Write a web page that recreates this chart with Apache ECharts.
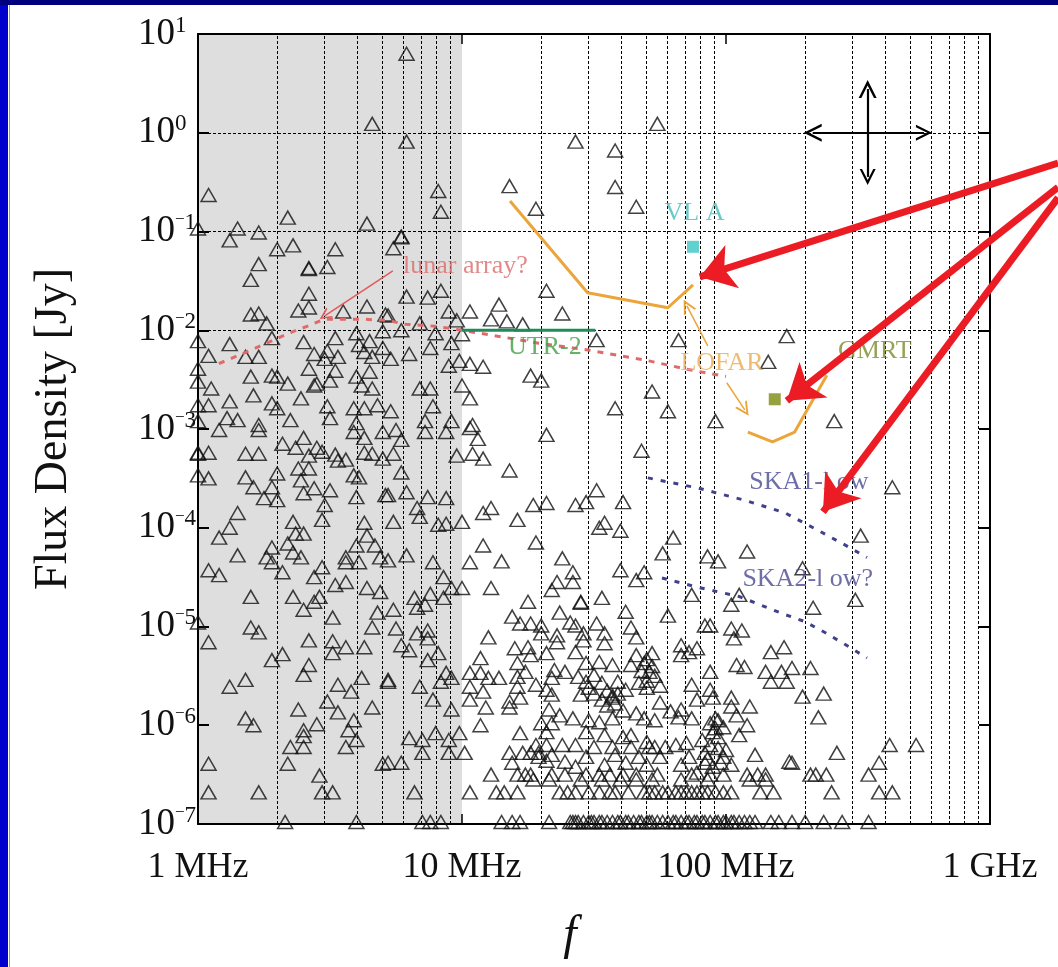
<!DOCTYPE html>
<html><head><meta charset="utf-8">
<script src="https://cdn.jsdelivr.net/npm/echarts@6/dist/echarts.min.js"></script>
<style>html,body{margin:0;padding:0;background:#fff;}#c{width:1058px;height:967px;}</style>
</head><body><div id="c"></div>
<script>
// Sources: [log10(f / MHz), log10(S / Jy)]
const srcGrayUpper = [[0.66,0.09],[0.04,-0.63],[0.00,-0.97],[0.15,-0.97],[0.12,-1.09],[0.23,-1.01],[0.34,-0.86],[0.64,-0.92],[0.30,-1.18],[0.36,-1.14],[0.52,-1.18],[0.23,-1.33],[0.20,-1.49],[0.42,-1.37],[0.42,-1.38],[0.49,-1.36],[0.42,-1.63],[0.38,-1.80],[0.42,-1.77],[0.20,-1.84],[0.23,-1.83],[0.26,-1.93],[0.55,-1.81],[0.64,-1.76],[0.71,-1.84],[0.00,-2.11],[0.12,-2.14],[0.28,-2.08],[0.04,-2.26],[0.18,-2.27],[0.23,-2.27],[0.40,-2.12],[0.44,-2.24],[0.49,-2.21],[0.52,-2.08],[0.48,-2.29],[0.53,-2.27],[0.60,-2.03],[0.61,-2.15],[0.65,-2.11],[0.63,-2.22],[0.66,-2.27],[0.70,-2.01],[0.70,-2.18],[0.00,-2.39],[0.00,-2.52],[0.05,-2.59],[0.20,-2.47],[0.28,-2.46],[0.30,-2.47],[0.34,-2.54],[0.42,-2.39],[0.44,-2.56],[0.45,-2.54],[0.52,-2.41],[0.50,-2.51],[0.60,-2.47],[0.65,-2.42],[0.62,-2.56],[0.66,-2.59],[0.00,-2.76],[0.04,-2.76],[0.12,-2.72],[0.21,-2.66],[0.28,-2.74],[0.30,-2.79],[0.39,-2.69],[0.49,-2.77],[0.59,-2.79],[0.63,-2.79],[0.68,-2.76],[0.11,-2.89],[0.15,-2.91],[0.35,-2.91],[0.50,-2.89],[0.23,-2.96],[0.60,-2.94],[0.00,-2.92]];
const srcGrayLower = [[0.08,-3.01],[0.23,-3.01],[0.00,-3.24],[0.00,-3.25],[0.04,-3.24],[0.18,-3.25],[0.23,-3.25],[0.32,-3.15],[0.37,-3.19],[0.40,-3.09],[0.45,-3.19],[0.42,-3.27],[0.47,-3.23],[0.52,-3.26],[0.56,-3.31],[0.53,-3.32],[0.59,-3.03],[0.63,-3.09],[0.63,-3.24],[0.66,-3.25],[0.70,-3.03],[0.70,-3.30],[0.00,-3.47],[0.04,-3.50],[0.18,-3.49],[0.21,-3.59],[0.25,-3.70],[0.28,-3.59],[0.30,-3.45],[0.30,-3.72],[0.38,-3.40],[0.42,-3.40],[0.39,-3.52],[0.40,-3.65],[0.44,-3.60],[0.50,-3.62],[0.48,-3.77],[0.47,-3.92],[0.59,-3.47],[0.61,-3.49],[0.60,-3.69],[0.71,-3.67],[0.15,-3.85],[0.12,-4.00],[0.08,-4.10],[0.36,-3.94],[0.37,-4.06],[0.40,-4.06],[0.34,-4.16],[0.28,-4.20],[0.26,-4.30],[0.28,-4.35],[0.15,-4.28],[0.36,-4.25],[0.39,-4.30],[0.32,-4.45],[0.04,-4.43],[0.08,-4.48],[0.63,-3.95],[0.64,-4.08],[0.60,-4.18],[0.67,-4.18],[0.69,-4.30],[0.56,-4.30],[0.56,-4.35],[0.61,-4.35],[0.47,-4.40],[0.44,-4.50],[0.52,-4.58],[0.56,-4.55],[0.20,-4.70],[0.36,-4.70],[0.46,-4.70],[0.44,-4.75],[0.40,-4.83],[0.64,-4.61],[0.69,-4.65],[0.68,-4.86],[0.51,-4.91],[0.00,-4.96],[0.20,-5.01],[0.23,-5.06],[0.04,-5.16],[0.42,-5.14],[0.51,-5.15],[0.56,-5.21],[0.63,-5.21],[0.51,-5.27],[0.66,-5.01],[0.32,-5.28],[0.28,-5.34],[0.42,-5.39],[0.40,-5.49],[0.18,-5.54],[0.12,-5.61],[0.53,-5.59],[0.58,-5.66],[0.62,-5.52],[0.72,-5.56],[0.49,-5.76],[0.53,-5.87],[0.38,-5.84],[0.66,-5.82],[0.18,-5.93],[0.21,-6.00],[0.40,-6.05],[0.40,-6.11],[0.45,-5.99],[0.59,-5.95],[0.57,-6.05],[0.60,-6.15],[0.56,-6.22],[0.35,-6.22],[0.40,-6.22],[0.04,-6.39],[0.34,-6.39],[0.46,-6.51],[0.70,-6.39],[0.04,-6.68],[0.23,-6.68],[0.47,-6.68],[0.51,-6.68]];
const srcMidUpper = [[0.79,0.80],[0.79,-0.09],[0.91,-0.59],[0.92,-0.80],[1.18,-0.54],[1.28,-0.77],[1.43,-0.09],[0.77,-1.05],[0.77,-1.06],[0.74,-1.17],[1.32,-1.60],[0.92,-1.60],[0.87,-1.67],[0.79,-1.66],[1.14,-1.74],[1.03,-1.81],[1.11,-1.89],[1.17,-1.91],[1.23,-1.94],[1.38,-1.83],[0.95,-1.81],[0.98,-1.90],[0.84,-1.93],[0.77,-2.00],[0.72,-1.85],[0.90,-2.03],[1.00,-2.04],[0.96,-2.13],[0.88,-2.18],[0.80,-2.24],[0.73,-2.29],[0.95,-2.36],[0.99,-2.31],[1.03,-2.34],[1.08,-2.37],[1.26,-2.46],[1.30,-2.51],[0.84,-2.59],[0.88,-2.59],[1.00,-2.56],[1.03,-2.69],[0.73,-2.82],[0.89,-2.77],[0.86,-2.92],[0.96,-2.92],[1.04,-2.96]];
const srcMidLower = [[0.75,-3.01],[0.77,-3.11],[0.86,-3.03],[0.94,-3.03],[1.03,-2.99],[1.06,-3.10],[1.32,-3.06],[0.74,-3.25],[0.98,-3.27],[1.04,-3.25],[1.08,-3.30],[1.18,-3.42],[0.77,-3.44],[0.72,-3.67],[0.79,-3.64],[0.87,-3.69],[0.94,-3.70],[0.83,-3.80],[0.84,-3.89],[0.74,-3.94],[0.91,-3.97],[0.94,-3.96],[1.00,-3.94],[1.08,-3.85],[1.11,-3.80],[1.21,-3.92],[1.27,-3.77],[1.32,-3.75],[1.43,-3.77],[1.28,-4.15],[1.08,-4.18],[1.15,-4.34],[1.03,-4.35],[0.79,-4.28],[0.89,-4.35],[0.72,-4.33],[0.93,-4.50],[1.11,-4.61],[1.00,-4.61],[0.96,-4.61],[0.93,-4.71],[0.88,-4.67],[0.82,-4.71],[0.83,-4.81],[0.86,-4.78],[0.74,-4.83],[1.25,-4.75],[1.38,-4.31],[1.42,-4.45],[1.36,-4.55],[1.42,-4.55],[1.34,-4.63],[1.45,-4.76],[1.37,-4.86],[1.19,-4.90],[1.22,-4.97],[1.26,-4.97],[1.30,-4.99],[1.30,-5.07],[1.41,-4.96],[1.43,-4.99],[0.75,-5.02],[0.83,-5.07],[0.87,-5.04],[0.87,-5.12],[0.77,-5.19],[0.80,-5.24],[0.91,-5.27],[0.87,-5.34],[1.10,-5.11],[1.20,-5.22],[1.25,-5.21],[1.26,-5.29],[1.21,-5.37],[1.32,-5.27],[1.36,-5.16],[1.36,-5.09],[1.43,-5.26],[1.07,-5.32],[0.72,-5.54],[0.84,-5.61],[0.94,-5.47],[0.96,-5.52],[0.92,-5.56],[1.03,-5.47],[1.07,-5.47],[1.10,-5.52],[1.14,-5.52],[1.03,-5.61],[1.08,-5.66],[1.03,-5.74],[1.09,-5.82],[0.89,-5.74],[0.96,-5.84],[1.18,-5.76],[1.18,-5.82],[1.22,-5.72],[1.21,-5.61],[1.28,-5.59],[1.32,-5.64],[1.21,-5.51],[1.24,-5.46],[1.34,-5.52],[1.35,-5.44],[1.39,-5.46],[1.44,-5.51],[1.34,-5.69],[1.45,-5.69],[1.33,-5.84],[1.37,-5.90],[1.42,-5.93],[1.07,-6.00],[1.30,-5.98],[1.34,-5.98],[1.32,-6.07],[0.80,-6.13],[0.85,-6.15],[0.90,-6.08],[0.95,-6.15],[0.99,-6.08],[1.22,-6.08],[1.28,-6.20],[1.32,-6.20],[1.38,-6.20],[1.43,-6.20],[1.26,-6.28],[1.18,-6.28],[1.23,-6.28],[1.29,-6.28],[1.39,-6.37],[1.43,-6.42],[0.85,-6.28],[0.95,-6.28],[1.01,-6.28],[0.77,-6.38],[0.72,-6.38],[1.19,-6.38],[1.11,-6.50],[1.21,-6.50],[1.24,-6.50],[1.26,-6.50],[1.34,-6.50],[1.39,-6.50],[0.82,-6.68],[1.03,-6.68],[1.13,-6.68],[1.16,-6.68],[1.21,-6.68],[1.37,-6.68],[1.40,-6.68],[1.43,-6.68]];
const srcHighUpper = [[1.74,0.09],[1.58,-0.18],[1.58,-0.55],[1.66,-0.75],[1.51,-2.10],[1.82,-2.10],[2.16,-2.32],[2.23,-2.06],[1.72,-2.62],[1.58,-2.79],[1.78,-2.82],[1.96,-2.92],[2.41,-2.92]];
const srcHighLower = [[1.68,-3.22],[1.51,-3.62],[1.47,-3.74],[1.61,-3.74],[1.52,-4.00],[1.54,-3.95],[1.60,-4.03],[1.80,-4.10],[1.76,-4.26],[1.93,-4.29],[1.97,-4.34],[2.08,-4.24],[1.60,-4.43],[1.69,-4.45],[1.66,-4.53],[1.87,-4.68],[2.02,-4.78],[2.05,-4.68],[1.45,-4.75],[1.53,-4.71],[1.62,-4.85],[1.78,-4.89],[1.51,-4.97],[1.54,-5.07],[1.64,-5.01],[1.66,-5.11],[1.46,-5.07],[1.54,-5.17],[1.46,-5.14],[1.92,-4.99],[1.94,-4.99],[2.02,-5.02],[2.03,-5.12],[2.06,-5.04],[1.83,-5.19],[1.83,-5.29],[1.86,-5.26],[1.89,-5.22],[1.66,-5.29],[1.72,-5.27],[2.04,-5.39],[2.07,-5.41],[1.94,-5.46],[1.47,-5.37],[1.52,-5.36],[1.57,-5.39],[1.64,-5.39],[1.69,-5.37],[1.71,-5.46],[1.50,-5.49],[1.47,-5.56],[1.53,-5.57],[1.59,-5.56],[1.67,-5.57],[1.70,-5.62],[1.87,-5.59],[1.94,-5.64],[1.57,-5.72],[1.62,-5.64],[1.75,-5.77],[1.79,-5.86],[1.83,-5.84],[1.82,-5.92],[1.89,-5.74],[1.95,-5.72],[2.02,-5.72],[2.02,-5.81],[2.09,-5.81],[2.04,-5.90],[1.48,-5.95],[1.52,-5.97],[1.57,-5.93],[1.66,-5.88],[1.69,-5.93],[1.73,-5.95],[1.87,-5.93],[1.96,-5.93],[1.97,-5.95],[1.96,-6.03],[2.08,-6.00],[2.05,-6.10],[1.47,-6.07],[1.54,-6.10],[1.61,-6.12],[1.64,-6.10],[1.70,-6.17],[1.73,-6.22],[1.77,-6.22],[1.81,-6.20],[1.85,-6.18],[1.91,-6.15],[1.94,-6.20],[1.97,-6.23],[2.00,-6.25],[1.50,-6.22],[1.57,-6.22],[1.64,-6.22],[1.71,-6.22],[1.47,-6.32],[1.58,-6.30],[1.67,-6.32],[1.75,-6.32],[1.86,-6.32],[1.92,-6.28],[1.99,-6.32],[2.11,-6.30],[1.54,-6.40],[1.62,-6.38],[1.70,-6.40],[1.83,-6.40],[1.92,-6.38],[2.02,-6.40],[1.47,-6.50],[1.52,-6.50],[1.56,-6.50],[1.61,-6.50],[1.66,-6.50],[1.74,-6.50],[1.87,-6.50],[1.89,-6.48],[1.94,-6.50],[1.99,-6.50],[2.08,-6.50],[2.12,-6.50],[2.15,-6.50],[1.48,-6.68],[1.52,-6.68],[1.56,-6.68],[1.58,-6.68],[1.63,-6.68],[1.69,-6.68],[1.73,-6.68],[1.78,-6.68],[1.81,-6.68],[1.85,-6.68],[1.89,-6.68],[1.93,-6.68],[1.99,-6.68],[2.13,-6.68],[2.18,-6.68],[2.17,-5.26],[2.22,-5.21],[2.15,-5.46],[2.17,-5.56],[2.21,-5.46],[2.23,-5.56],[2.24,-6.37]];
const srcRight = [[2.63,-3.59],[2.51,-4.08],[2.29,-4.41],[2.49,-4.73],[2.33,-4.81],[2.25,-5.42],[2.32,-5.42],[2.29,-5.71],[2.37,-5.68],[2.35,-5.92],[2.62,-6.20],[2.72,-6.20],[2.42,-6.28],[2.58,-6.38],[2.25,-6.38],[2.32,-6.50],[2.34,-6.50],[2.38,-6.50],[2.54,-6.50],[2.40,-6.68],[2.58,-6.68],[2.63,-6.68]];
const srcFloor = [[0.33,-6.98],[0.60,-6.98],[0.85,-6.98],[0.88,-6.98],[0.92,-6.98],[1.15,-6.98],[1.19,-6.98],[1.22,-6.98],[1.33,-6.98],[1.41,-6.98],[1.44,-6.98],[1.46,-6.98],[1.49,-6.98],[1.52,-6.98],[1.55,-6.98],[1.57,-6.98],[1.60,-6.98],[1.63,-6.98],[1.65,-6.98],[1.68,-6.98],[1.71,-6.98],[1.74,-6.98],[1.76,-6.98],[1.80,-6.98],[1.83,-6.98],[1.86,-6.98],[1.89,-6.98],[1.91,-6.98],[1.94,-6.98],[1.96,-6.98],[1.99,-6.98],[2.02,-6.98],[2.05,-6.98],[2.07,-6.98],[2.11,-6.98],[2.17,-6.98],[2.20,-6.98],[2.25,-6.98],[2.30,-6.98],[2.37,-6.98],[2.44,-6.98],[2.54,-6.98]];
// overlapping members of the densest clumps (30-150 MHz, 1e-7..1e-5 Jy)
const srcDense = [[1.42,-6.98],[1.43,-6.98],[1.48,-6.98],[1.50,-6.98],[1.53,-6.98],[1.59,-6.98],[1.62,-6.98],[1.67,-6.98],[1.70,-6.98],[1.72,-6.98],[1.78,-6.98],[1.81,-6.98],[1.85,-6.98],[1.88,-6.98],[1.92,-6.98],[1.97,-6.98],[2.00,-6.98],[2.03,-6.98],[2.09,-6.98],
  [1.71,-6.68],[1.76,-6.68],[1.83,-6.68],[1.87,-6.68],[1.91,-6.68],[1.96,-6.68],[2.02,-6.68],
  [1.27,-6.55],[1.33,-6.55],[1.45,-6.55],[1.53,-6.55],[1.60,-6.55],[1.66,-6.55],[1.72,-6.55],[1.83,-6.55],[1.93,-6.55],[2.09,-6.55],[2.15,-6.55],
  [1.55,-5.65],[1.57,-5.70],[1.59,-5.68],[1.70,-5.33],[1.72,-5.40],[1.73,-5.50],[1.94,-5.98],[1.95,-6.07],[1.97,-6.12],[1.99,-6.02],
  [1.48,-5.62],[1.50,-5.68],[1.53,-5.74],[1.55,-5.80],[1.58,-5.78],[1.61,-5.85],[1.68,-5.45],[1.70,-5.55],[1.75,-5.60],
  [1.29,-6.32],[1.32,-6.36],[1.34,-6.30],[1.93,-6.34],[1.95,-6.42],[1.98,-6.38]];

// Instrument curves: [f / MHz, S / Jy]
const lunarCurve = [[1.2,4.6e-3],[1.5,5.9e-3],[1.9,7.8e-3],[2.2,9.3e-3],[2.6,1.1e-2],[3.0,1.29e-2],[3.6,1.29e-2],[4.3,1.29e-2],[5.2,1.26e-2],[6.1,1.15e-2],[7.9,1.1e-2],[10,1.0e-2],[13,8.9e-3],[19.5,7.4e-3],[30,6.3e-3],[40,5.5e-3],[51,4.9e-3],[72,4.0e-3],[100,3.4e-3]];
const utr2 = [[10,0.01],[32,0.01]];
const lofarLow = [[15.2,0.204],[29.9,0.024],[60.2,0.0169],[75,0.0288]];
const lofarHigh = [[121,9.3e-4],[150,7.4e-4],[182,9.3e-4],[241,3.5e-3]];
const ska1 = [[50.6,3.2e-4],[77.5,2.54e-4],[116,1.92e-4],[167,1.42e-4],[217,9.8e-5],[282,6.7e-5],[342,5.0e-5]];
const ska2 = [[57.2,3.1e-5],[79.6,2.47e-5],[113,2.0e-5],[160,1.38e-5],[199,1.12e-5],[237,8.7e-6],[282,6.6e-6],[342,4.8e-6]];
const vla = [[75,0.07]];
const gmrt = [[153,2.0e-3]];

// grid / tick values
const minorX = [2,3,4,5,6,7,8,9,20,30,40,50,60,70,80,90,200,300,400,500,600,700,800,900];
const decadesY = [1,1e-1,1e-2,1e-3,1e-4,1e-5,1e-6];

// annotation anchors (data coordinates)
const labels = [
  {t:'lunar array?', p:[10.3,0.045], c:'#dc6a6a'},
  {t:'UTR-2', p:[20.6,6.8e-3], c:'#3f9f45'},
  {t:'LOFAR', p:[96.6,4.6e-3], c:'#eaaa4c'},
  {t:'VL A', p:[76,0.154], c:'#45bcbc'},
  {t:'GMRT', p:[366,6.2e-3], c:'#7c8a2a'},
  {t:'SKA1-l ow', p:[206,2.92e-4], c:'#4a4a92'},
  {t:'SKA2-l ow?', p:[204,2.98e-5], c:'#4a4a92'}
];
const lunarArrow = [[5.47,0.0399],[3.02,0.014]];
const lofarArrows = [[[85.3,6.95e-3],[71.1,0.01766]],[[100.7,2.94e-3],[117.8,1.56e-3]]];
const crossArrows = [[[213,1],[562,1]],[[344,2.77],[344,0.357]]];
const redArrows = [[[1811,0.494],[79.6,0.0347]],[[1811,0.28],[170,1.93e-3]],[[1811,0.22],[233,1.45e-4]]];

const toVal = p => [Math.pow(10,p[0]), Math.pow(10,p[1])];
const sources = [].concat(srcGrayUpper,srcGrayLower,srcMidUpper,srcMidLower,srcHighUpper,srcHighLower,srcRight,srcFloor,srcDense).map(toVal);

const SERIF = 'Liberation Serif, Times New Roman, serif';
const chev = 'path://M0,12 L6,0 L12,12 L10.2,12 L6,3.6 L1.8,12 Z';

function fmtFreq(v){ const r = Math.round(v); return r >= 1000 ? (r/1000)+' GHz' : r+' MHz'; }
function fmtExp(v){ const e = Math.round(Math.log10(v)); return '{b|10}' + (e<0 ? '{m|\u2212}{s|'+(-e)+'}' : '{s|'+e+'}'); }

const axisLineStyle = {color:'#000', width:2};
const xBase = {type:'log', logBase:10, min:1, max:1000, splitNumber:3,
  axisLine:{show:true, onZero:false, lineStyle:axisLineStyle},
  axisTick:{show:true, inside:true, length:10, lineStyle:{color:'#000', width:1.5}},
  splitLine:{show:false}};
const yBase = {type:'log', logBase:10, min:1e-7, max:10, splitNumber:8,
  axisLine:{show:true, onZero:false, lineStyle:axisLineStyle},
  axisTick:{show:true, inside:true, length:11, lineStyle:{color:'#000', width:2}},
  splitLine:{show:false}};

const chart = echarts.init(document.getElementById('c'), null, {renderer:'canvas'});
chart.setOption({
  animation:false,
  backgroundColor:'#ffffff',
  grid:{left:198, top:34, width:792, height:790, containLabel:false, outerBoundsMode:'none'},
  xAxis:[
    Object.assign({}, xBase, {position:'bottom',
      axisLabel:{show:true, margin:26, fontSize:36, fontFamily:SERIF, color:'#111', formatter:fmtFreq},
      name:'f', nameLocation:'middle', nameGap:88,
      nameTextStyle:{fontSize:48, fontStyle:'italic', fontFamily:SERIF, color:'#111', padding:[0,48,0,0]}}),
    Object.assign({}, xBase, {position:'top', axisLabel:{show:false}})
  ],
  yAxis:[
    Object.assign({}, yBase, {position:'left',
      axisLabel:{show:true, margin:60, align:'left', formatter:fmtExp,
        rich:{b:{fontSize:37, lineHeight:40, fontFamily:SERIF, color:'#111'},
              m:{fontSize:17, lineHeight:24, verticalAlign:'top', fontFamily:SERIF, color:'#111'},
              s:{fontSize:23, lineHeight:24, verticalAlign:'top', fontFamily:SERIF, color:'#111'}}},
      name:'Flux Density [Jy]', nameLocation:'middle', nameGap:121,
      nameTextStyle:{fontSize:46, fontFamily:SERIF, color:'#111'}}),
    Object.assign({}, yBase, {position:'right', axisLabel:{show:false}})
  ],
  graphic:[
    {type:'rect', shape:{x:0,y:0,width:8,height:967}, style:{fill:'#0000cc'}, z:100},
    {type:'rect', shape:{x:0,y:0,width:1058,height:5}, style:{fill:'#00007f'}, z:100},
    {type:'line', shape:{x1:9.5,y1:5,x2:9.5,y2:967}, style:{stroke:'#9a9a9a', lineWidth:1}, z:100}
  ],
  series:[
    {name:'sources', type:'scatter', z:2, data:sources, symbol:'triangle', symbolSize:[15,13],
      itemStyle:{color:'rgba(0,0,0,0)', borderColor:'#111', borderWidth:1.5}, silent:true,
      markArea:{silent:true, z:0, itemStyle:{color:'#dedede'}, data:[[{xAxis:1},{xAxis:10}]]},
      markLine:{silent:true, z:1, symbol:['none','none'], label:{show:false},
        lineStyle:{color:'#000', width:1, type:[3,2]},
        data:minorX.map(v=>({xAxis:v})).concat(decadesY.map(v=>({yAxis:v})))}},
    {name:'lunar', type:'line', z:3, data:lunarCurve, showSymbol:false, symbol:'none', smooth:false,
      lineStyle:{color:'#e06a6a', width:3, type:[6,7]}},
    {name:'UTR-2', type:'line', z:3, data:utr2, symbol:'none', lineStyle:{color:'#1e8c5a', width:3}},
    {name:'LOFAR-LBA', type:'line', z:3, data:lofarLow, symbol:'none', lineStyle:{color:'#eba53a', width:3}},
    {name:'LOFAR-HBA', type:'line', z:3, data:lofarHigh, symbol:'none', lineStyle:{color:'#eba53a', width:3}},
    {name:'SKA1', type:'line', z:3, data:ska1, symbol:'none', lineStyle:{color:'#40408c', width:3, type:[5,8]}},
    {name:'SKA2', type:'line', z:3, data:ska2, symbol:'none', lineStyle:{color:'#40408c', width:3, type:[5,8]}},
    {name:'VLA', type:'scatter', z:4, data:vla, symbol:'rect', symbolSize:12, itemStyle:{color:'#3cc4c4'}},
    {name:'GMRT', type:'scatter', z:4, data:gmrt, symbol:'rect', symbolSize:12, itemStyle:{color:'#7d8a10'}},
    {name:'labels', type:'scatter', z:5, symbolSize:0, silent:true,
      data:labels.map(l=>({value:l.p, name:l.t, label:{color:l.c}})),
      label:{show:true, position:'inside', formatter:p=>p.name, fontSize:26, fontFamily:SERIF}},
    {name:'lunarArrow', type:'lines', coordinateSystem:'cartesian2d', z:5, clip:false,
      data:[{coords:lunarArrow}], symbol:['none',chev], symbolSize:12,
      lineStyle:{color:'#e05a5a', width:1.5, opacity:1}},
    {name:'lofarArrows', type:'lines', coordinateSystem:'cartesian2d', z:5, clip:false,
      data:lofarArrows.map(c=>({coords:c})), symbol:['none',chev], symbolSize:14,
      lineStyle:{color:'#eba53a', width:1.5, opacity:1}},
    {name:'crossArrows', type:'lines', coordinateSystem:'cartesian2d', z:5, clip:false,
      data:crossArrows.map(c=>({coords:c})), symbol:[chev,chev], symbolSize:[18,16],
      lineStyle:{color:'#000', width:2.2, opacity:1}},
    {name:'redArrows', type:'lines', coordinateSystem:'cartesian2d', z:6, clip:false,
      data:redArrows.map(c=>({coords:c})), symbol:['none','arrow'], symbolSize:[26,34],
      lineStyle:{color:'#ec1c24', width:7, opacity:1}}
  ]
});
</script></body></html>
